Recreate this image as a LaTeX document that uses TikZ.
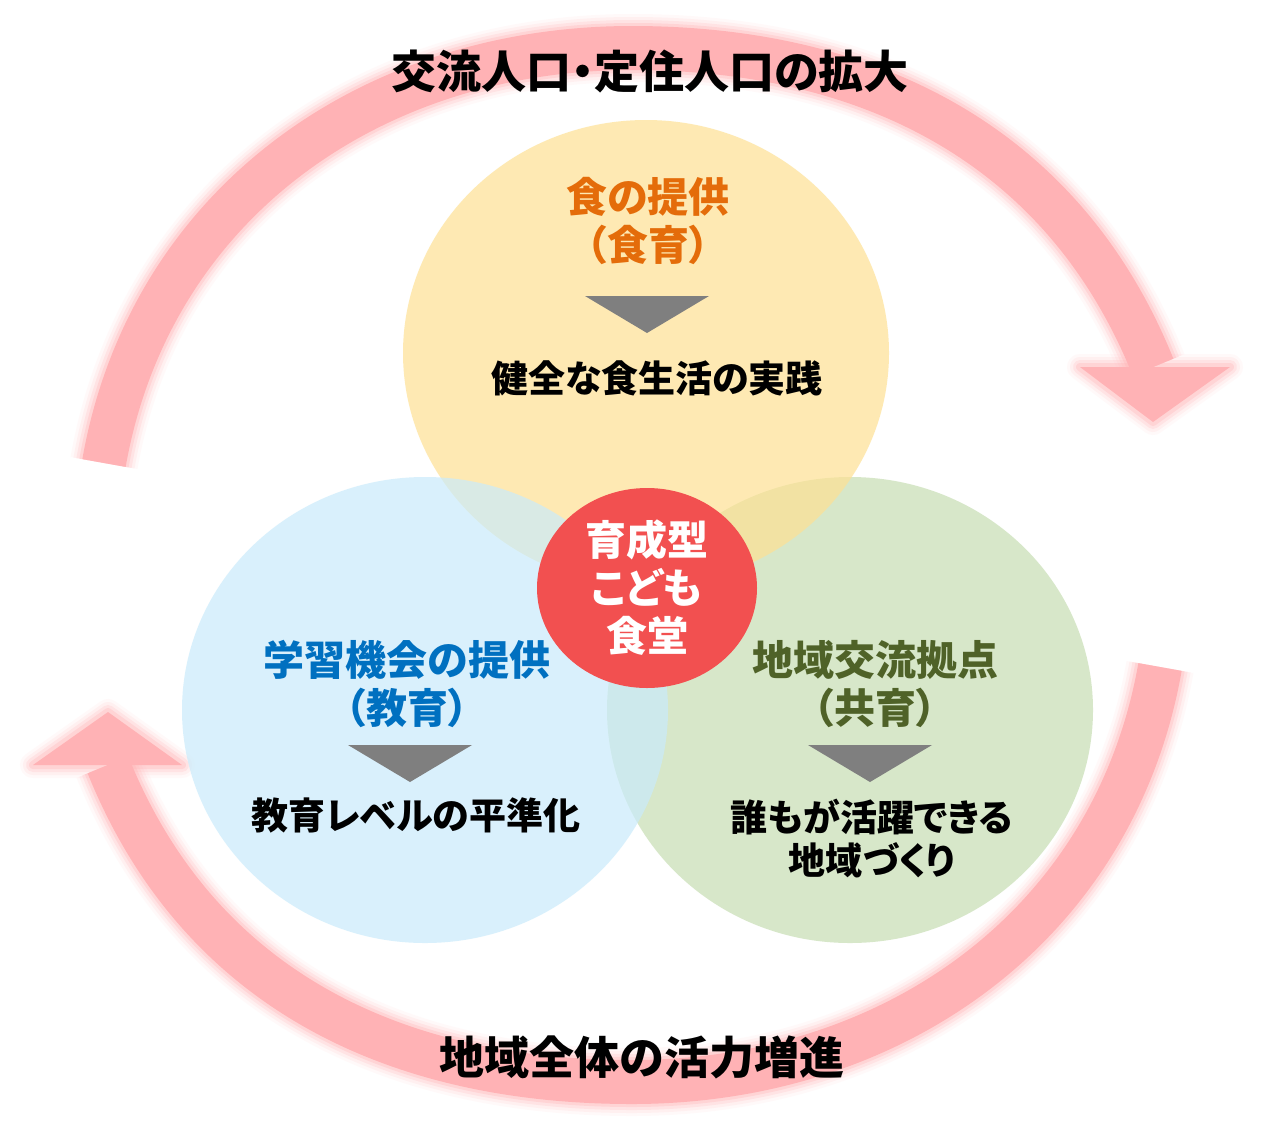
\documentclass[tikz,border=0pt]{standalone}
\usepackage{fontspec}
\setmainfont{Noto Sans CJK JP}[RawFeature=+palt]
\usetikzlibrary{shapes.geometric}

\definecolor{ringpink}{RGB}{255,178,181}
\definecolor{foodfill}{RGB}{254,225,148}
\definecolor{learnfill}{RGB}{202,235,251}
\definecolor{hubfill}{RGB}{199,222,179}
\definecolor{corered}{RGB}{242,80,80}
\definecolor{foodorange}{RGB}{228,108,10}
\definecolor{learnblue}{RGB}{0,112,192}
\definecolor{hubgreen}{RGB}{79,98,40}
\definecolor{markgray}{RGB}{127,127,127}

\begin{document}
\begin{tikzpicture}[
	x=1pt, y=-1pt,
	font=\bfseries,
	petal/.style={
		ellipse,
		inner sep=0pt,
		minimum width=486pt,
		minimum height=466pt,
		fill opacity=0.7
	},
	corenode/.style={
		ellipse,
		fill=corered,
		text=white,
		inner sep=0pt,
		minimum width=220pt,
		minimum height=200pt,
		align=center,
		font=\bfseries\fontsize{41}{48}\selectfont
	},
	headtext/.style={
		align=center,
		font=\bfseries\fontsize{41}{48}\selectfont
	},
	bodytext/.style={
		align=center,
		font=\bfseries\fontsize{37}{43}\selectfont
	},
	looptext/.style={
		font=\bfseries\fontsize{45}{52}\selectfont
	},
	downmark/.style={fill=markgray}
	]
	
	\useasboundingbox (0,0) rectangle (1263,1133);
	\fill[white] (0,0) rectangle (1263,1133);
	
	% soft edges of the circular arrows
	\foreach \w/\o/\h in {68/0.07/26, 62/0.12/20, 56/0.2/14, 50/0.3/8}{
		\draw[ringpink, opacity=\o, line width=\w pt]
		(104,463) to[out=80,in=180] (632,48) to[out=0,in=112] (1153,367);
		\draw[ringpink, opacity=\o, line width=\h pt, line join=round]
		(1080,367) -- (1230,367) -- (1153,422) -- cycle;
		\draw[ringpink, opacity=\o, line width=\w pt]
		(1160,667) to[out=-100,in=0] (632,1082) to[out=180,in=-68] (108,765);
		\draw[ringpink, opacity=\o, line width=\h pt, line join=round]
		(33,765) -- (182,765) -- (108,712) -- cycle;
	}
	
	% circular arrows
	\draw[ringpink, line width=44pt]
	(104,463) to[out=80,in=180] (632,48) to[out=0,in=112] (1153,367);
	\fill[ringpink] (1080,367) -- (1230,367) -- (1153,422) -- cycle;
	\draw[ringpink, line width=44pt]
	(1160,667) to[out=-100,in=0] (632,1082) to[out=180,in=-68] (108,765);
	\fill[ringpink] (33,765) -- (182,765) -- (108,712) -- cycle;
	
	\node[looptext] (inflow) at (650,72) {交流人口・定住人口の拡大};
	\node[looptext] (vitality) at (642,1057) {地域全体の活力増進};
	
	% three circles
	\node[petal, fill=hubfill] (hub) at (850,710) {};
	\node[petal, fill=foodfill] (food) at (646,353) {};
	\node[petal, fill=learnfill] (learn) at (425,710) {};
	
	\node[corenode] (core) at (647,588) {育成型\\こども\\食堂};
	
	\node[headtext, text=foodorange] (foodhead) at (648,221) {食の提供\\（食育）};
	\node[bodytext] (foodgoal) at (657,378) {健全な食生活の実践};
	
	\node[headtext, text=learnblue] (learnhead) at (407,684) {学習機会の提供\\（教育）};
	\node[bodytext] (learngoal) at (416,815) {教育レベルの平準化};
	
	\node[headtext, text=hubgreen] (hubhead) at (875,684) {地域交流拠点\\（共育）};
	\node[bodytext] (hubgoal) at (872,839) {誰もが活躍できる\\地域づくり};
	
	% down marks
	\foreach \cx/\ty in {647/296, 410/745, 870/745}
	\fill[downmark] (\cx-62,\ty) -- (\cx+62,\ty) -- (\cx,\ty+37) -- cycle;
	
\end{tikzpicture}
\end{document}
